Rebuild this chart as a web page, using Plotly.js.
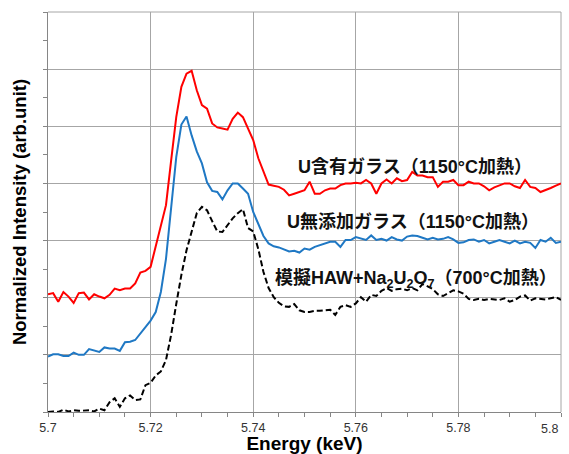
<!DOCTYPE html>
<html>
<head>
<meta charset="utf-8">
<script src="https://cdn.plot.ly/plotly-3.0.1.min.js"></script>
<style>html,body{margin:0;padding:0;background:#fff;}#chart{width:569px;height:454px;}</style>
</head>
<body>
<div id="chart"></div>
<script>
const energy = [5.700,5.701,5.702,5.703,5.704,5.705,5.706,5.707,5.708,5.709,
5.710,5.711,5.712,5.713,5.714,5.715,5.716,5.717,5.718,5.719,
5.720,5.721,5.722,5.723,5.724,5.725,5.726,5.727,5.728,5.729,
5.730,5.731,5.732,5.733,5.734,5.735,5.736,5.737,5.738,5.739,
5.740,5.741,5.742,5.743,5.744,5.745,5.746,5.747,5.748,5.749,
5.750,5.751,5.752,5.753,5.754,5.755,5.756,5.757,5.758,5.759,
5.760,5.761,5.762,5.763,5.764,5.765,5.766,5.767,5.768,5.769,
5.770,5.771,5.772,5.773,5.774,5.775,5.776,5.777,5.778,5.779,
5.780,5.781,5.782,5.783,5.784,5.785,5.786,5.787,5.788,5.789,
5.790,5.791,5.792,5.793,5.794,5.795,5.796,5.797,5.798,5.799,5.800];

const uGlass = [2.06,2.08,1.93,2.10,2.02,1.91,2.08,2.09,1.97,2.06,
2.02,1.99,2.05,2.16,2.13,2.16,2.16,2.25,2.44,2.47,
2.54,2.90,3.27,3.62,4.40,5.16,5.69,5.92,5.97,5.63,
5.37,5.31,5.05,4.98,4.96,4.94,5.13,5.24,5.16,4.96,
4.76,4.44,4.20,3.98,3.96,3.94,3.89,3.79,3.82,3.85,
3.88,4.03,3.82,3.82,3.88,3.91,3.91,3.97,4.00,4.00,
4.01,4.00,4.06,4.00,3.82,4.00,4.07,4.00,4.09,4.04,
4.06,4.20,4.14,4.14,4.11,4.11,3.94,4.03,4.03,4.06,
3.97,3.97,4.03,4.00,4.00,3.95,3.88,3.93,3.97,4.00,
4.00,3.95,3.92,4.06,3.94,3.92,3.85,3.88,3.92,3.96,4.00];

const noUGlass = [0.97,1.01,1.01,0.98,0.98,1.04,1.00,1.00,1.10,1.07,
1.05,1.13,1.11,1.11,1.07,1.22,1.23,1.26,1.38,1.49,
1.60,1.75,2.10,2.68,3.64,4.46,5.03,5.17,4.84,4.56,
4.35,4.02,3.87,3.85,3.72,3.88,4.00,4.00,3.91,3.82,
3.50,3.30,3.08,2.95,2.90,2.88,2.84,2.81,2.82,2.79,
2.86,2.84,2.89,2.92,2.94,2.98,2.98,2.89,3.01,3.01,
3.06,3.03,3.01,3.09,3.01,3.03,3.00,3.06,3.02,3.00,
3.07,3.09,3.08,3.05,3.02,3.05,3.02,3.03,3.06,3.02,
2.96,2.97,3.01,3.02,2.98,3.01,2.95,2.98,3.01,2.98,
2.95,3.00,2.95,2.98,2.96,2.87,3.01,2.98,3.05,2.96,2.98];

const simHAW = [0.00,0.01,0.00,0.04,0.01,0.03,0.02,0.03,0.03,0.01,
0.06,0.03,0.17,0.24,0.09,0.24,0.29,0.21,0.22,0.47,
0.51,0.64,0.71,0.91,1.35,1.89,2.40,2.83,3.16,3.48,
3.59,3.53,3.34,3.16,3.15,3.27,3.39,3.48,3.55,3.22,
3.16,2.85,2.45,2.17,2.01,1.91,1.85,1.84,1.89,1.78,
1.75,1.75,1.77,1.77,1.78,1.79,1.70,1.84,1.87,1.84,
1.90,2.01,1.93,2.05,2.03,2.12,2.17,2.12,2.15,2.16,
2.13,2.17,2.13,2.24,2.20,2.15,2.06,2.03,2.08,2.13,
2.11,2.07,1.98,1.96,1.98,1.96,1.98,1.97,1.96,1.99,
1.93,1.96,2.02,2.04,1.95,1.99,1.98,1.97,1.99,2.01,1.96];

const xTickVals = [5.7,5.72,5.74,5.76,5.78,5.8];
const xTickText = ['5.7','5.72','5.74','5.76','5.78','5.8'];
const seriesLabels = ['U含有ガラス（1150°C加熱）','U無添加ガラス（1150°C加熱）','模擬HAW+Na<sub>2</sub>U<sub>2</sub>O<sub>7</sub>（700°C加熱）'];
const labelX = [5.7715,5.7712,5.7717];
const labelY = [4.28,3.33,2.33];

const latin = "Arial, 'Liberation Sans', 'Noto Sans CJK JP', sans-serif";
const cjk = "'Liberation Sans', 'Noto Sans CJK JP', sans-serif";
const gridCol = '#a6a6a6';
const nTicks = xTickVals.length;

const traces = [
  {x: energy, y: uGlass, type:'scatter', mode:'lines', line:{color:'#ff0000', width:2}, hoverinfo:'none'},
  {x: energy, y: noUGlass, type:'scatter', mode:'lines', line:{color:'#1f78c4', width:2}, hoverinfo:'none'},
  {x: energy, y: simHAW, type:'scatter', mode:'lines', line:{color:'#000000', width:2, dash:'6px,3px'}, hoverinfo:'none'}
];

const annots = seriesLabels.map((t,i)=>({
  x: labelX[i], y: labelY[i], xref:'x', yref:'y', text:'<b>'+t+'</b>', showarrow:false,
  xanchor:'center', yanchor:'middle', font:{size:18, family:cjk, color:'#111'}
}));
// last tick label is drawn right-aligned to the axis end, as in the reference
annots.push({x: xTickVals[nTicks-1], y: 0, xref:'x', yref:'paper', text: xTickText[nTicks-1],
  showarrow:false, xanchor:'right', yanchor:'top', xshift:-1, yshift:-8,
  font:{size:12.5, color:'#333', family:latin}});

const layout = {
  width:569, height:454,
  margin:{l:48, r:8, t:12, b:42},
  paper_bgcolor:'#ffffff', plot_bgcolor:'#ffffff',
  showlegend:false,
  font:{family:latin, color:'#000'},
  xaxis:{
    range:[5.7,5.8], tickmode:'array', tickvals:xTickVals.slice(0,nTicks-1), ticktext:xTickText.slice(0,nTicks-1),
    showgrid:true, gridcolor:gridCol, gridwidth:1,
    showline:true, linecolor:'#868686', linewidth:1,
    ticks:'outside', ticklen:4, tickcolor:'#868686',
    tickfont:{size:12.5, color:'#333', family:latin},
    zeroline:false,
    minor:{dtick:0.005, tick0:5.7, ticks:'outside', ticklen:4, tickcolor:'#868686', showgrid:false},
    title:{text:'<b>Energy (keV)</b>', font:{size:19, family:latin, color:'#000'}, standoff:5}
  },
  yaxis:{
    range:[0,7], dtick:1, tick0:0,
    showgrid:true, gridcolor:gridCol, gridwidth:1,
    showline:true, linecolor:'#868686', linewidth:1,
    ticks:'outside', ticklen:4, tickcolor:'#868686',
    showticklabels:false, zeroline:false,
    minor:{dtick:0.5, tick0:0, ticks:'outside', ticklen:4, tickcolor:'#868686', showgrid:false},
    title:{text:'<b>Normalized Intensity (arb.unit)</b>', font:{size:18.5, family:latin, color:'#000'}, standoff:11}
  },
  shapes:[
    {type:'line', xref:'paper', yref:'paper', x0:0, x1:1, y0:1, y1:1, line:{color:gridCol, width:1}, layer:'below'},
    {type:'line', xref:'paper', yref:'paper', x0:1, x1:1, y0:0, y1:1, line:{color:gridCol, width:1}, layer:'below'},
    {type:'line', xref:'paper', yref:'paper', x0:1, x1:1, y0:0, y1:0, y1shift:0, line:{color:'#868686', width:1}}
  ],
  annotations: annots
};

Plotly.newPlot('chart', traces, layout, {staticPlot:true, displayModeBar:false});
</script>
</body>
</html>
